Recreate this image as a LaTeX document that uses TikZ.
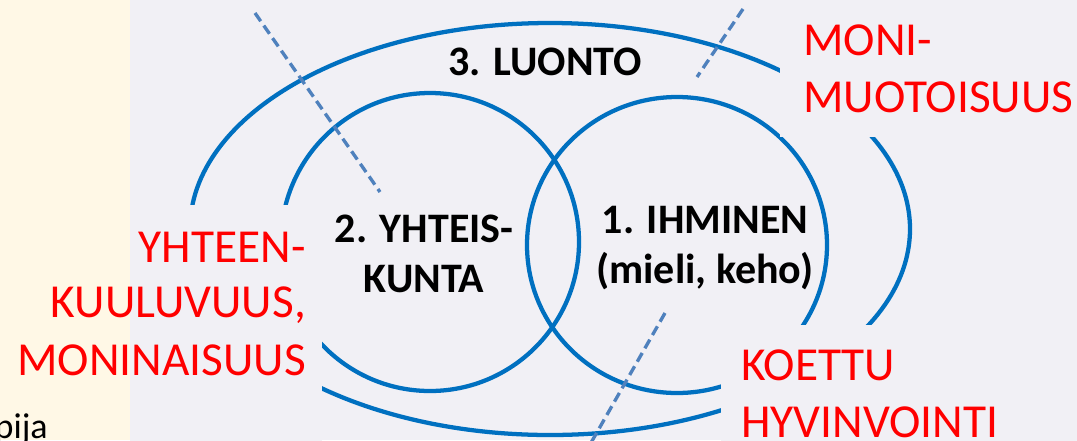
\documentclass[tikz,border=0pt]{standalone}
\usepackage{fontspec}
\setmainfont{Carlito}
\definecolor{creambg}{RGB}{255,248,230}
\definecolor{greybg}{RGB}{241,240,245}
\definecolor{ringblue}{RGB}{0,112,192}
\definecolor{dashblue}{RGB}{79,129,189}
\definecolor{labelred}{RGB}{255,0,0}
\tikzset{
  ring/.style={draw=ringblue, line width=3.2pt},
  dashline/.style={draw=dashblue, line width=2.5pt, dash pattern=on 7.5pt off 4pt},
  mask/.style={fill=greybg, draw=none},
  lbl/.style={inner sep=0pt, font=\fontsize{31.5}{38}\selectfont\bfseries, text=black},
  redlbl/.style={inner sep=0pt, font=\fontsize{35.5}{42}\selectfont, text=labelred},
  sidetext/.style={inner sep=0pt, font=\fontsize{27}{32}\selectfont, text=black}
}
\begin{document}
\begin{tikzpicture}[x=0.75pt,y=-0.75pt]
\useasboundingbox (0,0) rectangle (1077,440);
\clip (0,0) rectangle (1077,440);
% backgrounds
\fill[creambg] (0,0) rectangle (130,440);
\fill[greybg] (130,0) rectangle (1077,440);
% rings
\draw[ring] (550,229) ellipse [x radius=360, y radius=206];
\draw[ring] (430,242) circle [radius=149];
\draw[ring] (677,245) ellipse [x radius=150, y radius=148];
% label backgrounds hiding ring parts
\fill[mask] (780,-5) rectangle (1085,137);
\fill[mask] (721,325) rectangle (1085,445);
\fill[mask] (130,205) rectangle (322,445);
% dashed lines
\coordinate (d1a) at (255,13);
\coordinate (d1b) at (380,192);
\coordinate (d2a) at (743,9);
\coordinate (d2b) at (697,77);
\coordinate (d3a) at (665,313);
\coordinate (d3b) at (588,448);
\draw[dashline] (d1a) -- (d1b);
\draw[dashline] (d2a) -- (d2b);
\draw[dashline] (d3a) -- (d3b);
% black labels
\node[lbl, anchor=base] (luonto) at (545,75) {3. LUONTO};
\node[lbl, anchor=base] (yhteis) at (424,242) {2. YHTEIS-};
\node[lbl, anchor=base] (kunta) at (424,292) {KUNTA};
\node[lbl, anchor=base] (ihminen) at (705,233) {1. IHMINEN};
\node[lbl, anchor=base] (mieli) at (705,283) {(mieli, keho)};
% red labels
\node[redlbl, anchor=base west] (moni) at (803,55) {MONI-};
\node[redlbl, anchor=base west] (muoto) at (803,112) {MUOTOISUUS};
\node[redlbl, anchor=base east] (yhteen) at (306,262) {YHTEEN-};
\node[redlbl, anchor=base east] (kuulu) at (306,317) {KUULUVUUS,};
\node[redlbl, anchor=base east] (moninai) at (306,375) {MONINAISUUS};
\node[redlbl, anchor=base west] (koettu) at (741,380) {KOETTU};
\node[redlbl, anchor=base west] (hyvin) at (741,437) {HYVINVOINTI};
% side text
\node[sidetext, anchor=base east] (oppija) at (48,438) {oppija};
\end{tikzpicture}
\end{document}
